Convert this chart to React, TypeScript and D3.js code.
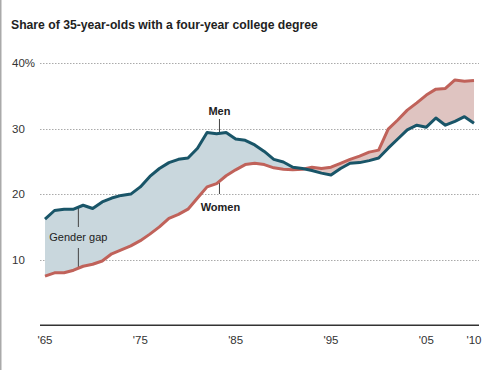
import { useEffect, useRef } from 'react';
import * as d3 from 'd3';

const years = d3.range(1965, 2011);
const men = [
  16.2, 17.5, 17.7, 17.7, 18.3, 17.8, 18.8, 19.4, 19.8, 20.0,
  21.1, 22.7, 23.9, 24.8, 25.3, 25.5, 27.0, 29.4, 29.2, 29.4,
  28.4, 28.2, 27.5, 26.5, 25.3, 24.9, 24.1, 23.9, 23.6, 23.2,
  22.9, 23.9, 24.7, 24.8, 25.1, 25.5, 27.0, 28.4, 29.8, 30.5,
  30.2, 31.6, 30.5, 31.1, 31.8, 30.8,
];
const women = [
  7.5, 8.0, 8.0, 8.4, 9.0, 9.3, 9.8, 10.9, 11.5, 12.1,
  12.9, 13.9, 15.0, 16.3, 16.9, 17.7, 19.4, 21.1, 21.6, 22.8,
  23.7, 24.5, 24.7, 24.5, 24.0, 23.8, 23.7, 23.8, 24.1, 23.9,
  24.1, 24.7, 25.3, 25.8, 26.4, 26.7, 29.9, 31.3, 32.8, 33.9,
  35.1, 36.0, 36.1, 37.4, 37.2, 37.3,
];
const yTicks = [10, 20, 30, 40];
const xTicks = [1965, 1975, 1985, 1995, 2005, 2010];

const W = 500;
const H = 370;

export default function App() {
  const ref = useRef<SVGSVGElement | null>(null);

  useEffect(() => {
    if (!ref.current) return;
    const svg = d3.select(ref.current);
    svg.selectAll('*').remove();

    const font = 'Liberation Sans, Arial, Helvetica, sans-serif';
    const x = d3.scaleLinear().domain([1965, 2010]).range([45, 474]);
    const y = d3.scaleLinear().domain([0, 40]).range([325.3, 62.9]);
    const top = y(40) - 5;
    const bottom = y(0);

    const rows = years.map((yr, i) => ({ yr, m: men[i], w: women[i] }));
    type Row = (typeof rows)[number];

    // left frame edge
    svg.append('rect').attr('x', 0).attr('y', 0).attr('width', 1.5).attr('height', H).attr('fill', '#aaa');

    svg
      .append('text')
      .attr('x', 11)
      .attr('y', 29)
      .attr('font-family', font)
      .attr('font-size', 12.2)
      .attr('font-weight', 'bold')
      .attr('fill', '#222')
      .text('Share of 35-year-olds with a four-year college degree');

    // grid
    const grid = svg.append('g');
    yTicks.forEach((t) => {
      grid
        .append('line')
        .attr('x1', 40)
        .attr('x2', 479)
        .attr('y1', Math.round(y(t)) + 0.5)
        .attr('y2', Math.round(y(t)) + 0.5)
        .attr('stroke', '#aaa')
        .attr('stroke-width', 1)
        .attr('stroke-dasharray', '1.5,1.5');
      grid
        .append('text')
        .attr('x', 12)
        .attr('y', y(t) + 4)
        .attr('font-family', font)
        .attr('font-size', 11.5)
        .attr('fill', '#333')
        .text(t === 40 ? '40%' : String(t));
    });

    // fills
    const defs = svg.append('defs');
    const above = d3.area<Row>().x((d) => x(d.yr)).y0(top).y1((d) => y(d.w));
    const below = d3.area<Row>().x((d) => x(d.yr)).y0((d) => y(d.w)).y1(bottom);
    defs.append('clipPath').attr('id', 'clip-above').append('path').attr('d', above(rows) as string);
    defs.append('clipPath').attr('id', 'clip-below').append('path').attr('d', below(rows) as string);

    const between = d3.area<Row>().x((d) => x(d.yr)).y0((d) => y(d.w)).y1((d) => y(d.m));
    svg
      .append('path')
      .attr('d', between(rows) as string)
      .attr('clip-path', 'url(#clip-above)')
      .attr('fill', '#c9d7dd');
    svg
      .append('path')
      .attr('d', between(rows) as string)
      .attr('clip-path', 'url(#clip-below)')
      .attr('fill', '#dfc4c1');

    // axis
    svg
      .append('line')
      .attr('x1', 40)
      .attr('x2', 479)
      .attr('y1', bottom)
      .attr('y2', bottom)
      .attr('stroke', '#333')
      .attr('stroke-width', 1.5);
    xTicks.forEach((t) => {
      svg
        .append('text')
        .attr('x', x(t))
        .attr('y', 344)
        .attr('text-anchor', 'middle')
        .attr('font-family', font)
        .attr('font-size', 11.5)
        .attr('fill', '#333')
        .text("'" + String(t).slice(2));
    });

    // annotation ticks
    const tick = (x1: number, y1: number, y2: number) =>
      svg
        .append('line')
        .attr('x1', x1)
        .attr('x2', x1)
        .attr('y1', y1)
        .attr('y2', y2)
        .attr('stroke', '#444')
        .attr('stroke-width', 1);
    const gx = x(1968.5);
    tick(gx, y(17.9), 227);
    tick(gx, 248, y(8.7));
    const mx = x(1983.3);
    tick(mx, 119, y(29.2));
    tick(mx, y(21.8), 194);

    // lines
    const lineM = d3.line<Row>().x((d) => x(d.yr)).y((d) => y(d.m));
    const lineW = d3.line<Row>().x((d) => x(d.yr)).y((d) => y(d.w));
    svg
      .append('path')
      .attr('d', lineW(rows) as string)
      .attr('fill', 'none')
      .attr('stroke', '#c0625a')
      .attr('stroke-width', 3)
      .attr('stroke-linejoin', 'round');
    svg
      .append('path')
      .attr('d', lineM(rows) as string)
      .attr('fill', 'none')
      .attr('stroke', '#195568')
      .attr('stroke-width', 3)
      .attr('stroke-linejoin', 'round');

    // labels
    const label = (tx: number, ty: number, s: string, bold: boolean) =>
      svg
        .append('text')
        .attr('x', tx)
        .attr('y', ty)
        .attr('text-anchor', 'middle')
        .attr('font-family', font)
        .attr('font-size', 11)
        .attr('font-weight', bold ? 'bold' : 'normal')
        .attr('fill', '#222')
        .text(s);
    label(mx, 115, 'Men', true);
    label(mx + 1, 211, 'Women', true);
    label(gx, 241, 'Gender gap', false);
  }, []);

  return (
    <svg
      ref={ref}
      width={W}
      height={H}
      style={{ position: 'absolute', left: 0, top: 0, background: '#fff' }}
    />
  );
}
